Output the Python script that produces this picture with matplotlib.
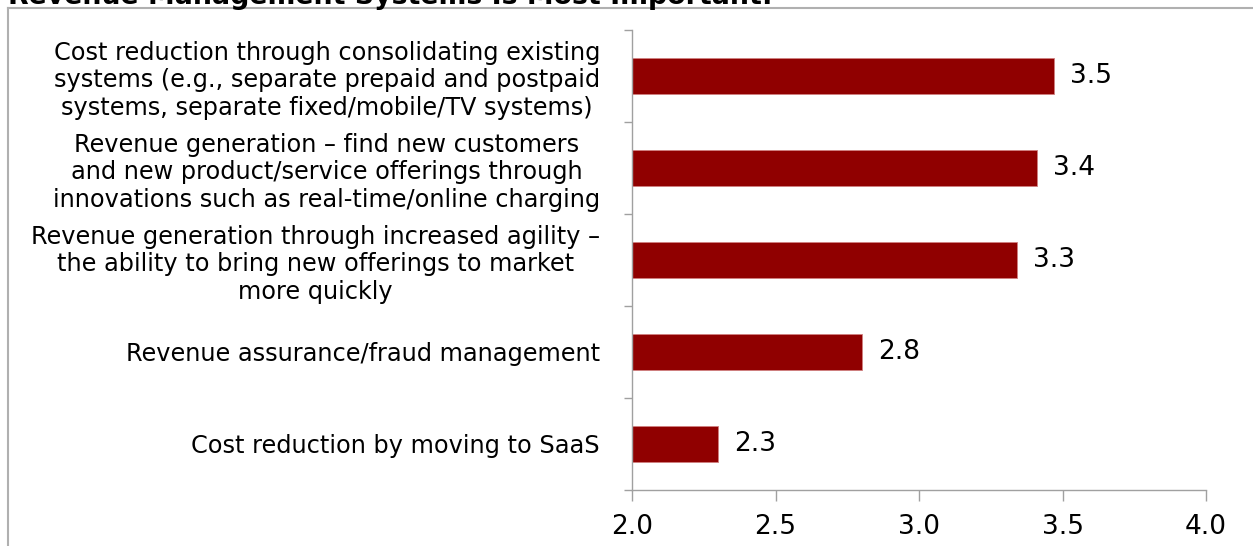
import numpy as np
import matplotlib
matplotlib.use("Agg")
import matplotlib.pyplot as plt
from matplotlib.lines import Line2D

# ======== chart data ========#
categories = [
    "Cost reduction through consolidating existing\nsystems (e.g., separate prepaid and postpaid\nsystems, separate fixed/mobile/TV systems)",
    "Revenue generation \u2013 find new customers\nand new product/service offerings through\ninnovations such as real-time/online charging",
    "Revenue generation through increased agility \u2013\nthe ability to bring new offerings to market\nmore quickly",
    "Revenue assurance/fraud management",
    "Cost reduction by moving to SaaS",
]
values = [3.47, 3.41, 3.34, 2.80, 2.30]
xticks = [2.0, 2.5, 3.0, 3.5, 4.0]
title = "Revenue Management Systems Is Most Important:"

bar_col = '#900000'
axis_col = '#a0a0a0'

plt.rcParams['font.family'] = 'DejaVu Sans'

fig = plt.figure(figsize=(12.53, 5.46), dpi=100)
ax = fig.add_axes([0.5044, 0.1026, 0.4581, 0.8424])

n = len(categories)
ypos = np.arange(n)[::-1]
ax.barh(ypos, [v - 2.0 for v in values], left=2.0, height=0.4,
        color=bar_col, edgecolor='#d08080', linewidth=0.6)

for y, v in zip(ypos, values):
    ax.text(v + 0.056, y, "%.1f" % v, va='center', ha='left', fontsize=19)

ax.set_xlim(2.0, 4.0)
ax.set_ylim(-0.5, n - 0.5)
ax.set_xticks(xticks)
ax.set_xticklabels(["%.1f" % t for t in xticks], fontsize=19)

# category labels centred on bars, tick marks between categories
ax.set_yticks(np.arange(-0.5, n, 1.0))
ax.set_yticklabels([])
ax.set_yticks(ypos, minor=True)
ax.set_yticklabels(categories, minor=True, fontsize=17.3,
                   multialignment='center')
ax.tick_params(axis='y', which='minor', length=0, pad=32 * 72 / 100.)
ax.tick_params(axis='y', which='major', length=6, color=axis_col, width=1)
ax.tick_params(axis='x', length=8, color=axis_col, width=1, pad=9)

for s in ['top', 'right']:
    ax.spines[s].set_visible(False)
for s in ['left', 'bottom']:
    ax.spines[s].set_color(axis_col)
    ax.spines[s].set_linewidth(1)

# outer frame (cut at bottom and right)
top = 1 - 8.0 / 546
lft = 7.5 / 1253
fig.add_artist(Line2D([lft, lft], [0, top], color='#b0b0b0', lw=1.5,
                      transform=fig.transFigure))
fig.add_artist(Line2D([lft, 1.0], [top, top], color='#b0b0b0', lw=1.5,
                      transform=fig.transFigure))

fig.text(8.0 / 1253, 1 - 4.0 / 546, title, fontsize=19.3, fontweight='bold',
         ha='left', va='baseline')

fig.savefig('out.png', dpi=100)
